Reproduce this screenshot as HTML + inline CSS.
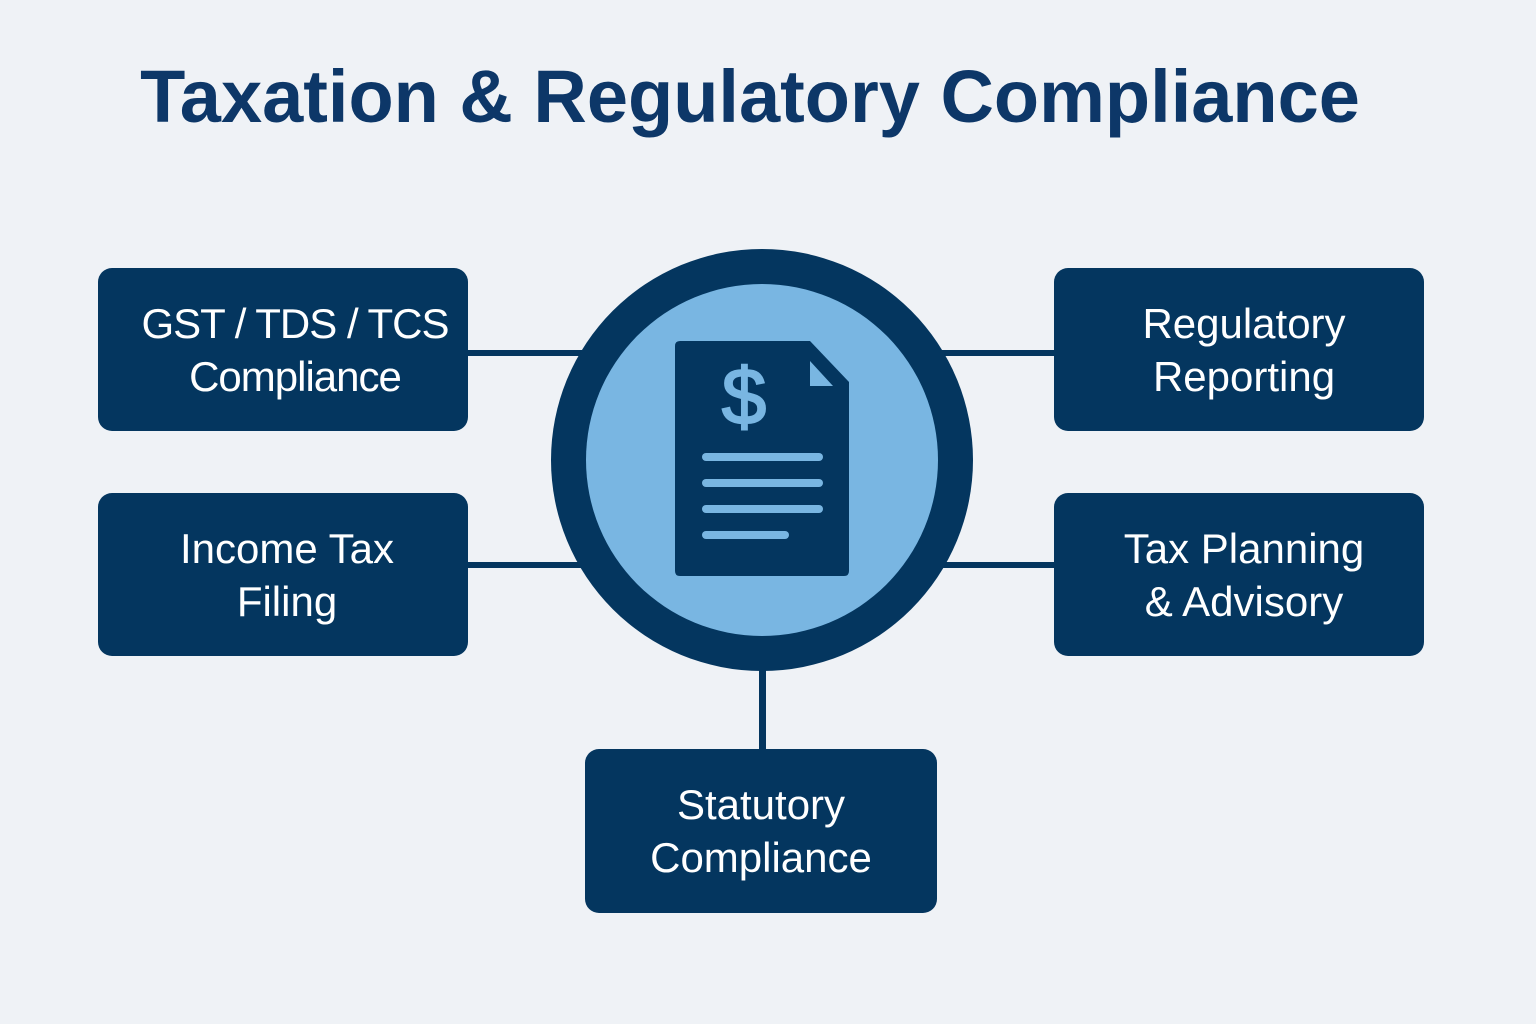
<!DOCTYPE html>
<html><head><style>
body{margin:0;width:1536px;height:1024px;background:#eff2f6;position:relative;overflow:hidden;font-family:"Liberation Sans",sans-serif}
.t{position:absolute;left:0;width:1500px;text-align:center;top:54px;font-size:74px;font-weight:bold;color:#0d3768;letter-spacing:0px}
.b{position:absolute;background:#04365f;border-radius:14px;color:#fff;font-size:42px;line-height:53px;display:flex;align-items:center;justify-content:center;text-align:center}
.l{position:absolute;background:#04365f}
</style></head><body>
<div class="t">Taxation &amp; Regulatory Compliance</div>
<div class="l" style="left:460px;top:350px;width:130px;height:6px"></div>
<div class="l" style="left:460px;top:562px;width:130px;height:6px"></div>
<div class="l" style="left:935px;top:350px;width:130px;height:6px"></div>
<div class="l" style="left:935px;top:562px;width:130px;height:6px"></div>
<div class="l" style="left:759px;top:660px;width:7px;height:95px"></div>
<div class="b" style="left:98px;top:268px;width:370px;height:163px"><span style="padding-left:24px;letter-spacing:-1px">GST / TDS / TCS<br>Compliance</span></div>
<div class="b" style="left:98px;top:493px;width:370px;height:163px"><span style="padding-left:8px">Income Tax<br>Filing</span></div>
<div class="b" style="left:1054px;top:268px;width:370px;height:163px"><span style="padding-left:10px">Regulatory<br>Reporting</span></div>
<div class="b" style="left:1054px;top:493px;width:370px;height:163px"><span style="padding-left:10px">Tax Planning<br>&amp; Advisory</span></div>
<div class="b" style="left:585px;top:749px;width:352px;height:164px">Statutory<br>Compliance</div>
<svg style="position:absolute;left:0;top:0" width="1536" height="1024">
<circle cx="762" cy="460" r="211" fill="#04365f"/>
<circle cx="762" cy="460" r="176" fill="#79b6e2"/>
<path d="M680 341 H810 L849 382 V571 Q849 576 844 576 H680 Q675 576 675 571 V346 Q675 341 680 341Z" fill="#04365f"/>
<path d="M810 361 V386 H833Z" fill="#79b6e2"/>
<text x="744" y="424" text-anchor="middle" font-family="Liberation Sans,sans-serif" font-size="80" fill="#79b6e2" stroke="#79b6e2" stroke-width="2">$</text>
<g stroke="#79b6e2" stroke-width="8" stroke-linecap="round">
<line x1="706" y1="457" x2="819" y2="457"/>
<line x1="706" y1="483" x2="819" y2="483"/>
<line x1="706" y1="509" x2="819" y2="509"/>
<line x1="706" y1="535" x2="785" y2="535"/>
</g>
</svg>
</body></html>
